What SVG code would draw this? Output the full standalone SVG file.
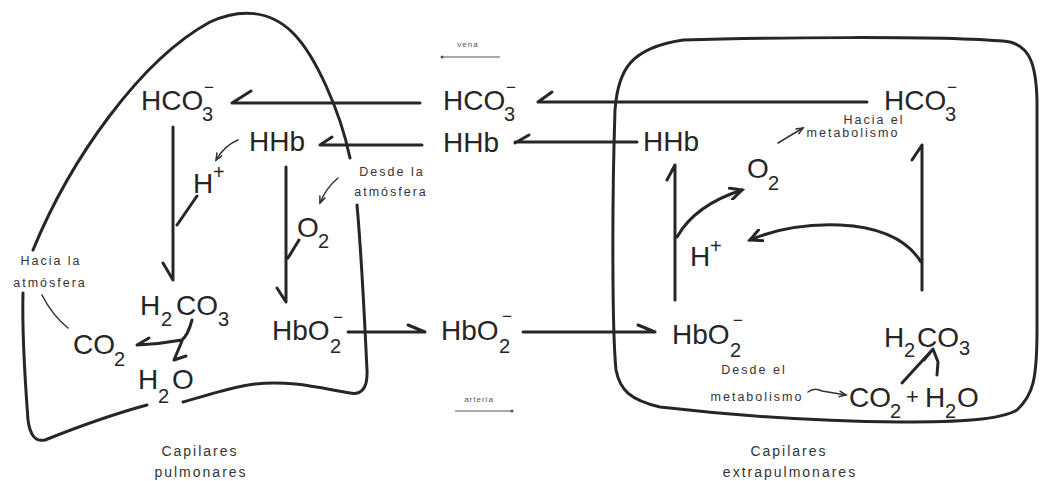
<svg xmlns="http://www.w3.org/2000/svg" width="1041" height="481" viewBox="0 0 1041 481">
<style>
.f{font-family:"Liberation Sans",Arial,sans-serif;font-size:28px;fill:#262626}
.s{font-size:20px}
.sup{font-size:17px}
.l{font-family:"Liberation Sans",Arial,sans-serif;font-size:12.5px;fill:#333;letter-spacing:2px;text-anchor:middle}
.c{font-family:"Liberation Sans",Arial,sans-serif;font-size:14px;fill:#333;letter-spacing:2px;text-anchor:middle}
.t{font-family:"Liberation Sans",Arial,sans-serif;font-size:8px;fill:#555;letter-spacing:1px;text-anchor:middle}
.o{fill:none;stroke:#262626;stroke-width:3;stroke-linecap:round;stroke-linejoin:round}
.a{fill:none;stroke:#262626;stroke-width:3;stroke-linecap:round;stroke-linejoin:round}
.th{fill:none;stroke:#333;stroke-width:1.5;stroke-linecap:round}
</style>
<defs>
<marker id="ah" markerWidth="10" markerHeight="8" refX="8" refY="4" orient="auto" markerUnits="userSpaceOnUse">
<path d="M1,1 L8,4 L1,7" fill="none" stroke="#333" stroke-width="1.5"/>
</marker>
<marker id="ahb" markerWidth="16" markerHeight="14" refX="13" refY="7" orient="auto" markerUnits="userSpaceOnUse">
<path d="M1,1 L13,7 L1,13" fill="none" stroke="#262626" stroke-width="3" stroke-linecap="round"/>
</marker>
</defs>
<rect width="1041" height="481" fill="#ffffff"/>

<g id="pulmonary-outline">
<path class="o" d="M33,250 C70,160 140,60 210,22 C240,8 270,10 293,33 C315,55 340,110 350,158"/>
<path class="o" d="M357,205 C362,260 365,330 367,370 C368,390 360,395 350,393 C320,388 290,380 255,384 C225,388 200,398 183,402"/>
<path class="o" d="M147,405 C110,415 70,430 45,440 C35,442 30,435 28,420 C25,380 22,330 23,293"/>
</g>
<g id="extrapulmonary-outline">
<path class="o" d="M683,40 C750,38 950,35 1010,42 C1030,47 1036,65 1037,100 L1037,330 C1037,380 1033,395 1017,410 C1000,420 960,422 900,422 C800,421 720,414 660,407 C630,400 620,390 616,370 C612,330 612,200 615,110 C618,70 630,48 683,40 Z"/>
</g>

<g id="connectors">
<path class="a" d="M867,102 H538 M538,102 L552,92"/>
<path class="a" d="M420,103 H232 M232,103 L251,91"/>
<path class="a" d="M637,142 H515 M515,143 L529,135"/>
<path class="a" d="M422,145 H320 M320,145 L332,137"/>
<path class="a" d="M348,332 H425 M425,332 L408,325"/>
<path class="a" d="M523,332 H655 M655,332 L638,325"/>
<path class="a" d="M173,127 V280 M163,263 L173,280 M197,196 L177,225"/>
<path class="a" d="M286,167 V302 M277,288 L286,302 M299,240 L288,258"/>
<path class="a" d="M192,320 Q188,335 182,340 Q160,344 137,345 M137,345 L149,338 M182,341 L174,360 L186,356"/>
<path class="a" d="M675,300 V165 M667,180 L675,165"/>
<path class="a" d="M677,237 Q695,205 742,190" marker-end="url(#ahb)"/>
<path class="a" d="M922,290 V145 M912,160 L922,145"/>
<path class="a" d="M921,262 Q900,228 840,225 Q790,223 750,240" marker-end="url(#ahb)"/>
<path class="a" d="M902,383 L933,349 M924,360 L933,349 L938,362 L937,375"/>
<path class="th" d="M238,140 Q225,145 216,160" marker-end="url(#ah)"/>
<path class="th" d="M338,178 Q326,188 320,203" marker-end="url(#ah)"/>
<path class="th" d="M778,143 L803,128" marker-end="url(#ah)"/>
<path class="th" d="M808,392 Q814,387 822,391 L846,395" marker-end="url(#ah)"/>
<path class="th" d="M68,328 Q52,315 42,295"/>
<path d="M442,57 H500" stroke="#555" stroke-width="1.2"/>
<circle cx="442" cy="57" r="1.5" fill="#555"/>
<path d="M455,411 H512" stroke="#555" stroke-width="1.2"/>
<circle cx="512" cy="411" r="1.5" fill="#555"/>
</g>

<g id="hco3-left"><text class="f" x="141" y="110">HCO</text><text class="f s" x="202" y="121">3</text><text class="f sup" x="204" y="93">−</text></g>
<g id="hco3-mid"><text class="f" x="443" y="110">HCO</text><text class="f s" x="504" y="121">3</text><text class="f sup" x="506" y="93">−</text></g>
<g id="hco3-right"><text class="f" x="884" y="110">HCO</text><text class="f s" x="945" y="121">3</text><text class="f sup" x="947" y="93">−</text></g>

<g id="hhb-left"><text class="f" x="249" y="151">HHb</text></g>
<g id="hhb-mid"><text class="f" x="443" y="152">HHb</text></g>
<g id="hhb-right"><text class="f" x="643" y="151">HHb</text></g>

<g id="hplus-left"><text class="f" x="193" y="193">H</text><text class="f s" x="213" y="179">+</text></g>
<g id="hplus-right"><text class="f" x="690" y="266">H</text><text class="f s" x="710" y="253">+</text></g>

<g id="o2-left"><text class="f" x="297" y="237">O</text><text class="f s" x="318" y="248">2</text></g>
<g id="o2-right"><text class="f" x="747" y="178">O</text><text class="f s" x="768" y="190">2</text></g>

<g id="h2co3-left"><text class="f" x="140" y="315">H</text><text class="f s" x="161" y="326">2</text><text class="f" x="176" y="315">CO</text><text class="f s" x="218" y="326">3</text></g>
<g id="co2-left"><text class="f" x="73" y="354">CO</text><text class="f s" x="114" y="366">2</text></g>
<g id="h2o-left"><text class="f" x="138" y="389">H</text><text class="f s" x="158" y="403">2</text><text class="f" x="172" y="389">O</text></g>

<g id="hbo2-left"><text class="f" x="272" y="340">HbO</text><text class="f s" x="330" y="353">2</text><text class="f sup" x="333" y="323">−</text></g>
<g id="hbo2-mid"><text class="f" x="441" y="340">HbO</text><text class="f s" x="499" y="353">2</text><text class="f sup" x="502" y="322">−</text></g>
<g id="hbo2-right"><text class="f" x="672" y="344">HbO</text><text class="f s" x="730" y="357">2</text><text class="f sup" x="733" y="326">−</text></g>

<g id="h2co3-right"><text class="f" x="884" y="347">H</text><text class="f s" x="904" y="357">2</text><text class="f" x="917" y="347">CO</text><text class="f s" x="959" y="355">3</text></g>
<g id="co2-h2o-right"><text class="f" x="849" y="407">CO</text><text class="f s" x="890" y="418">2</text><text class="f" x="906" y="404" style="font-size:22px">+</text><text class="f" x="925" y="407">H</text><text class="f s" x="945" y="418">2</text><text class="f" x="957" y="407">O</text></g>

<g id="label-hacia-atm"><text class="l" x="51" y="265">Hacia la</text><text class="l" x="50" y="287">atmósfera</text></g>
<g id="label-desde-atm"><text class="l" x="392" y="176">Desde la</text><text class="l" x="391" y="196">atmósfera</text></g>
<g id="label-hacia-met"><text class="l" x="874" y="124">Hacia el</text><text class="l" x="853" y="137">metabolismo</text></g>
<g id="label-desde-met"><text class="l" x="754" y="374">Desde el</text><text class="l" x="757" y="401">metabolismo</text></g>
<g id="label-vena"><text class="t" x="468" y="47">vena</text></g>
<g id="label-arteria"><text class="t" x="479" y="402">arteria</text></g>
<g id="label-pulm"><text class="c" x="200" y="456">Capilares</text><text class="c" x="201" y="477">pulmonares</text></g>
<g id="label-extra"><text class="c" x="789" y="456">Capilares</text><text class="c" x="790" y="477">extrapulmonares</text></g>
</svg>
